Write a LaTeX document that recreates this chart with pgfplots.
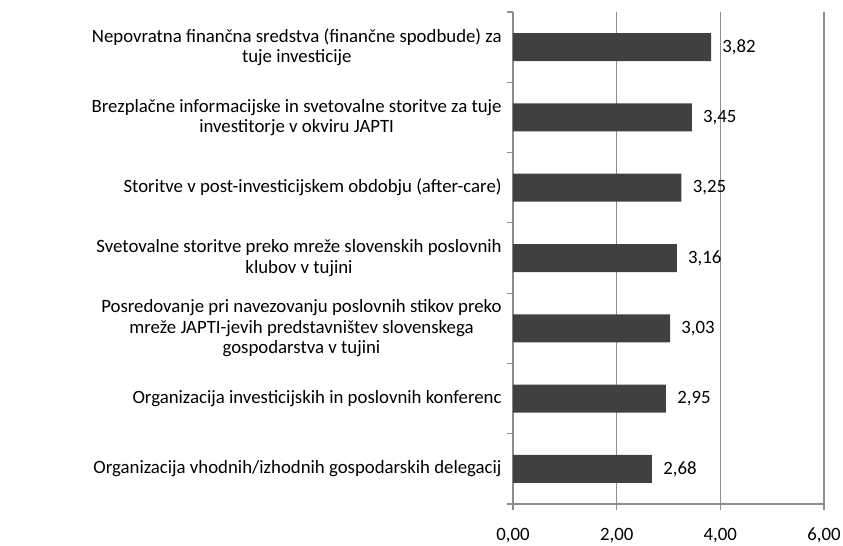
\documentclass[border=0pt]{standalone}
\usepackage{fontspec}
\setmainfont{Carlito}
\usepackage{pgfplots}
\pgfplotsset{compat=1.18}
\definecolor{barc}{HTML}{404040}
\definecolor{gridc}{HTML}{8C8C8C}
\begin{document}
\begin{tikzpicture}[font=\fontsize{14.1}{15.2}\selectfont]
\path[use as bounding box] (0pt,0pt) rectangle (632.25pt,409.5pt);
\begin{axis}[
    at={(384.75pt,31.5pt)}, anchor=south west,
    scale only axis, width=233.25pt, height=369pt,
    xbar, bar width=21pt,
    xmin=0, xmax=6, ymin=-0.5, ymax=6.5,
    axis x line*=bottom, axis y line*=left,
    axis line style={gridc, line width=0.8pt},
    xtick={0,2,4,6}, xmajorgrids,
    major grid style={gridc, line width=0.8pt},
    tick style={gridc, line width=0.8pt},
    tick align=outside, major tick length=4.5pt,
    ytick={-0.5,0.5,...,6.5}, yticklabels={},
    extra y ticks={0,...,6},
    extra y tick style={major tick length=0pt, tick style={draw=none},
      yticklabel style={align=center, xshift=-5pt}},
    extra y tick labels={
      {Organizacija vhodnih/izhodnih gospodarskih delegacij},
      {Organizacija investicijskih in poslovnih konferenc},
      {Posredovanje pri navezovanju poslovnih stikov preko\\mreže JAPTI-jevih predstavništev slovenskega\\gospodarstva v tujini},
      {Svetovalne storitve preko mreže slovenskih poslovnih\\klubov v tujini},
      {Storitve v post-investicijskem obdobju (after-care)},
      {Brezplačne informacijske in svetovalne storitve za tuje\\investitorje v okviru JAPTI},
      {Nepovratna finančna sredstva (finančne spodbude) za\\tuje investicije}
    },
    /pgf/number format/.cd, use comma, fixed, fixed zerofill, precision=2, assume math mode=true,
    /pgfplots/.cd,
    xticklabel style={anchor=north, inner sep=0pt, yshift=-13.5pt},
    nodes near coords,
    nodes near coords style={anchor=west, xshift=5pt, text=black},
]
\addplot[fill=barc, draw=none] coordinates {
  (2.68,0) (2.95,1) (3.03,2) (3.16,3) (3.25,4) (3.45,5) (3.82,6)
};
\end{axis}
\end{tikzpicture}
\end{document}
